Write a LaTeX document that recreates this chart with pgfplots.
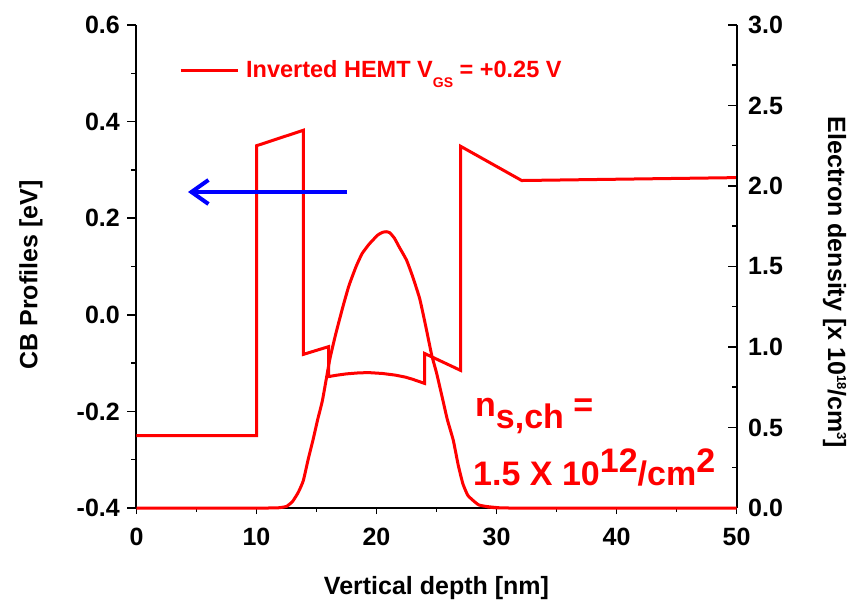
\documentclass[border=0pt]{standalone}
\usepackage{pgfplots}
\pgfplotsset{compat=1.18}
\usepackage{fontspec}
\setmainfont{Liberation Sans}
\usetikzlibrary{arrows.meta}

\pgfplotstableread{
x y
0 -0.25
10 -0.25
10 0.35
13.9 0.382
13.9 -0.082
16.0 -0.066
16.0 -0.128
16.7 -0.125
17.5 -0.1223
18.4 -0.1205
19.3 -0.1196
20.5 -0.1215
21.6 -0.125
22.4 -0.129
23.0 -0.1334
24.0 -0.142
24.0 -0.080
27.0 -0.115
27.0 0.349
32.1 0.278
50 0.284
}\cbtable

\pgfplotstableread{
x y
0 0
11 0
12 0.003
12.5 0.01
13 0.04
13.5 0.1
13.9 0.17
14.3 0.3
14.7 0.42
15.1 0.55
15.5 0.67
16.1 0.92
16.6 1.08
17.2 1.25
17.7 1.38
18.3 1.50
18.8 1.58
19.4 1.64
20.1 1.695
20.5 1.712
20.8 1.716
21.1 1.71
21.5 1.675
21.9 1.62
22.5 1.54
23.0 1.44
23.6 1.30
24.1 1.13
24.6 0.95
25.0 0.84
25.5 0.68
25.9 0.55
26.4 0.42
26.8 0.27
27.2 0.15
27.6 0.08
28.0 0.05
28.5 0.02
29.1 0.01
30 0.003
31 0
50 0
}\dentable

\begin{document}
\begin{tikzpicture}
\path[use as bounding box] (-136.5bp,-94bp) rectangle (730.5bp,508bp);
\pgfplotsset{
  common/.style={
    scale only axis, width=600bp, height=483bp,
    xmin=0, xmax=50,
    clip=false,
    axis line style={line width=2bp, black, -},
    tick style={line width=1.5bp, black},
    ticklabel style={font=\fontsize{25bp}{30bp}\selectfont\bfseries, inner sep=0pt},
  }
}
% x axis
\begin{axis}[common,
  ymin=0, ymax=1,
  axis x line*=bottom, axis y line=none,
  ytick=\empty,
  xtick={0,10,20,30,40,50},
  xticklabels={0,10,20,30,40,50},
  minor x tick num=1,
  tick align=outside,
  major tick length=6bp, minor tick length=4bp,
  xticklabel style={yshift=-14bp},
]
\end{axis}
% left axis: CB profile
\begin{axis}[common,
  ymin=-0.4, ymax=0.6,
  axis x line=none, axis y line*=left,
  xtick=\empty,
  ytick={-0.4,-0.2,0,0.2,0.4,0.6},
  yticklabels={-0.4,-0.2,0.0,0.2,0.4,0.6},
  minor y tick num=1,
  tick align=outside,
  major tick length=9bp, minor tick length=5bp,
  yticklabel style={xshift=-7.5bp},
  legend style={draw=none, fill=none, inner sep=0pt,
    at={(rel axis cs:0.0708,0.9068)}, anchor=west,
    font=\fontsize{23.5bp}{28bp}\selectfont\bfseries, text=red},
  legend image code/.code={\draw[red, line width=3bp] (0bp,0bp) -- (57bp,0bp);
    \path (62bp,0bp);},
  legend cell align=left,
]
\addplot[red, line width=3bp] table[x=x,y=y]{\cbtable};
\addlegendentry{Inverted HEMT V\raisebox{-10bp}{\fontsize{14bp}{14bp}\selectfont GS} = +0.25 V}
\end{axis}
% right axis: electron density
\begin{axis}[common,
  ymin=0, ymax=3,
  axis x line=none, axis y line*=right,
  xtick=\empty,
  ytick={0,0.5,1,1.5,2,2.5,3},
  yticklabels={0.0,0.5,1.0,1.5,2.0,2.5,3.0},
  minor y tick num=1,
  tick align=inside,
  major tick length=9bp, minor tick length=5bp,
  yticklabel style={anchor=west, xshift=11.5bp},
]
\addplot[red, line width=3bp, smooth, tension=0.3] table[x=x,y=y]{\dentable};
\end{axis}
% annotations
\draw[blue, line width=4bp, -{Straight Barb[length=17bp,width=24bp]}] (210.5bp,316bp) -- (51.5bp,316bp);
\node[anchor=base west, inner sep=0pt, text=red, font=\fontsize{34bp}{40bp}\selectfont\bfseries]
  at (338.5bp,91bp) {n\raisebox{-12bp}{s,ch} =};
\node[anchor=base west, inner sep=0pt, text=red, font=\fontsize{34bp}{40bp}\selectfont\bfseries]
  at (336.5bp,23bp) {1.5 X 10\raisebox{13bp}{12}/cm\raisebox{13bp}{2}};
\node[anchor=base, inner sep=0pt, font=\fontsize{25bp}{30bp}\selectfont\bfseries]
  at (300bp,-86.5bp) {Vertical depth [nm]};
\node[rotate=90, inner sep=0pt, font=\fontsize{25bp}{30bp}\selectfont\bfseries]
  at (-105.5bp,233bp) {CB Profiles [eV]};
\node[rotate=-90, inner sep=0pt, font=\fontsize{25bp}{30bp}\selectfont\bfseries]
  at (698bp,225.5bp) {Electron density [x 10\raisebox{9bp}{\fontsize{13bp}{13bp}\selectfont 18}/cm\raisebox{9bp}{\fontsize{13bp}{13bp}\selectfont 3}]};
\end{tikzpicture}
\end{document}
